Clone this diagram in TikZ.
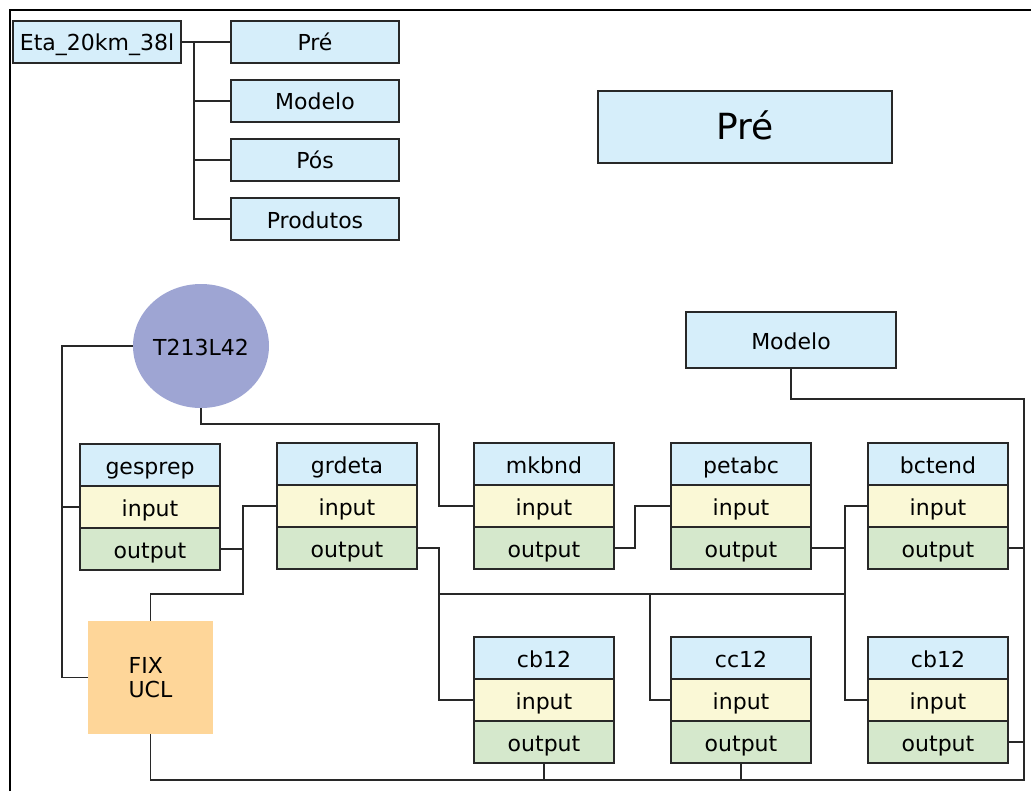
\documentclass[tikz,border=0pt]{standalone}
\usepackage{fontspec}
\setmainfont{DejaVu Sans}
\usetikzlibrary{positioning,shapes.geometric}
\definecolor{skyblue}{RGB}{214,238,250}
\definecolor{lemon}{RGB}{250,248,214}
\definecolor{mint}{RGB}{213,232,204}
\definecolor{peach}{RGB}{254,214,153}
\definecolor{lavender}{RGB}{158,165,211}
\definecolor{ink}{RGB}{40,40,40}
\tikzset{
  txt/.style={font=\fontsize{11}{12}\selectfont, text height=9pt, text depth=0pt},
  box/.style={txt, draw=ink, line width=0.65pt, align=center, minimum height=21pt, inner sep=2pt, outer sep=0pt},
  menu/.style={box, fill=skyblue, minimum width=84pt},
  hdr/.style={box, fill=skyblue, minimum width=70pt},
  inp/.style={box, fill=lemon, minimum width=70pt},
  outp/.style={box, fill=mint, minimum width=70pt},
  src/.style={txt, ellipse, fill=lavender, minimum width=68pt, minimum height=62pt, inner sep=0pt},
  fixbox/.style={fill=peach, font=\fontsize{11}{12}\selectfont, align=left, minimum width=62.5pt, minimum height=56.5pt},
  wire/.style={draw=ink, line width=0.55pt},
  frame/.style={draw=black, line width=1pt}}

\begin{document}
\begin{tikzpicture}[x=0.5pt, y=-0.5pt, node distance=0pt]
  \useasboundingbox (0,0) rectangle (1031,791);
  \draw[frame] (10,791) -- (10,10) -- (1031,10);
  % menu
  \node[menu] (eta) at (97,42) {Eta\_20km\_38l};
  \node[menu] (pre) at (315,42) {Pré};
  \node[menu, below=8.5pt of pre] (modelo) {Modelo};
  \node[menu, below=8.5pt of modelo] (pos) {Pós};
  \node[menu, below=8.5pt of pos] (prod) {Produtos};
  \coordinate (fork) at (194,42);
  \draw[wire] (eta) -- (pre);
  \draw[wire] (fork) |- (modelo.west);
  \draw[wire] (fork) |- (pos.west);
  \draw[wire] (fork) |- (prod.west);
  \node[box, fill=skyblue, minimum width=147pt, minimum height=36pt, font=\fontsize{18}{22}\selectfont, text height=13pt] (prebig) at (745,127) {Pré};
  \node[box, fill=skyblue, minimum width=105pt, minimum height=28pt] (modelo2) at (791,340) {Modelo};
  % sources
  \node[src] (t213) at (201,346) {T213L42};
  \node[fixbox] (fix) at (150.5,677.5) {FIX\\UCL};
  % programs
  \foreach \n/\t/\x/\y in {gesprep/gesprep/150/465, grdeta/grdeta/347/464, mkbnd/mkbnd/544/464,
      petabc/petabc/741/464, bctend/bctend/938/464, cba/cb12/544/658, cc/cc12/741/658, cbb/cb12/938/658} {
    \node[hdr] (\n) at (\x,\y) {\t};
    \node[inp, below=of \n] (\n-in) {input};
    \node[outp, below=of \n-in] (\n-out) {output};
  }
  % wiring
  \coordinate (lbus) at (62,346);
  \draw[wire] (t213.west) -- (lbus) |- (fix.west);
  \draw[wire] (gesprep-in.west) -| (lbus);
  \coordinate (tbend) at (439,424);
  \draw[wire] (t213.south) |- (tbend) |- (mkbnd-in.west);
  \coordinate (fixup) at (243,594);
  \draw[wire] (gesprep-out.east) -| (fixup) -| (fix.north);
  \draw[wire] (grdeta-in.west) -| (fixup);
  \coordinate (busl) at (439,594);
  \coordinate (busm) at (650,594);
  \coordinate (busr) at (845,594);
  \draw[wire] (grdeta-out.east) -| (busl) |- (cba-in.west);
  \draw[wire] (busl) -- (busr);
  \draw[wire] (busm) |- (cc-in.west);
  \draw[wire] (mkbnd-out.east) -- ++(21,0) |- (petabc-in.west);
  \draw[wire] (petabc-out.east) -| (busr) |- (cbb-in.west);
  \draw[wire] (bctend-in.west) -| (busr);
  \coordinate (rtop) at (1024,399);
  \coordinate (rbot) at (1024,780);
  \draw[wire] (modelo2.south) |- (rtop) -- (rbot) -| (fix.south);
  \draw[wire] (bctend-out.east) -- (bctend-out.east -| rtop);
  \draw[wire] (cbb-out.east) -- (cbb-out.east -| rtop);
  \draw[wire] (cba-out.south) -- (cba-out.south |- rbot);
  \draw[wire] (cc-out.south) -- (cc-out.south |- rbot);
\end{tikzpicture}
\end{document}
